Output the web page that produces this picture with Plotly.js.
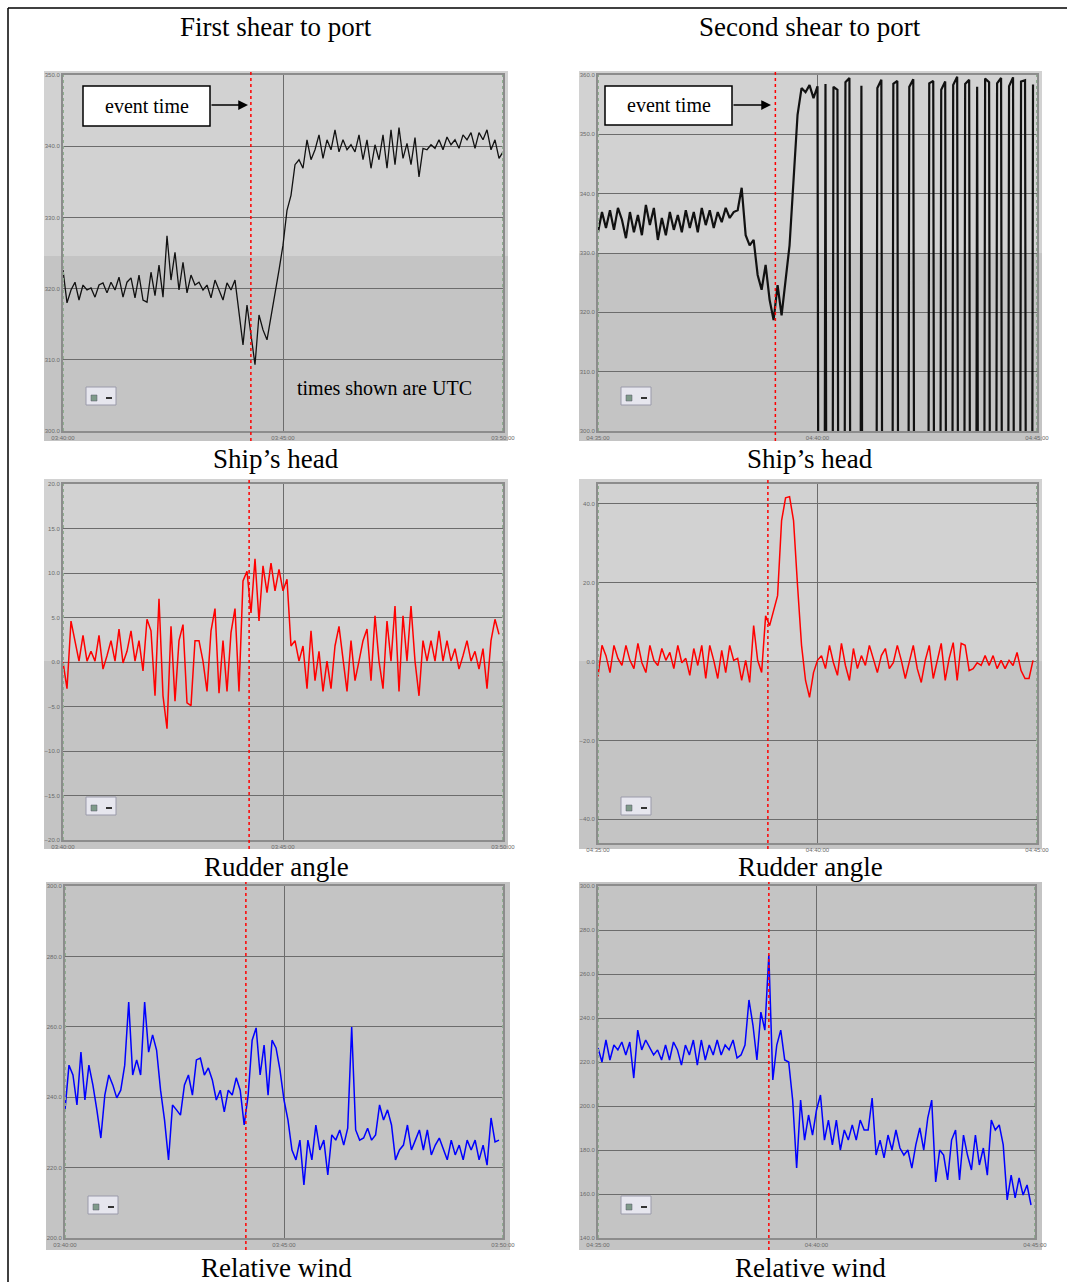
<!DOCTYPE html>
<html><head><meta charset="utf-8">
<script src="https://cdn.plot.ly/plotly-3.0.1.min.js"></script>
<style>html,body{margin:0;padding:0;background:#fff}#chart{width:1067px;height:1282px}</style>
</head><body><div id="chart"></div>
<script>
// ---------------- DATA ----------------
const tickMinutes = [0, 5, 10];
const firstTickText = ['03:40:00', '03:45:00', '03:50:00'];
const secondTickText = ['04:35:00', '04:40:00', '04:45:00'];
const sampleMinutes = 10 / 110;

// First shear to port - Ship's head (deg)
const headFirst = [322.6,318.0,319.8,320.9,318.4,320.5,319.8,320.1,318.8,320.5,320.8,319.4,320.9,319.8,321.6,318.8,320.9,321.5,318.7,321.9,
 318.4,318.1,322.3,319.0,323.3,318.8,327.4,321.2,325.1,319.8,323.7,319.4,321.9,320.5,320.9,319.8,320.5,318.7,321.2,319.8,
 318.4,320.8,319.8,321.2,317.0,312.1,317.7,313.5,309.3,316.3,314.2,312.8,315.9,319.1,322.6,326.1,331.0,333.1,337.4,338.1,
 336.9,340.9,338.1,339.5,341.6,338.3,340.9,339.5,342.3,339.2,340.9,339.5,340.2,339.2,341.6,338.1,340.9,336.9,340.2,338.1,
 341.6,336.9,342.3,337.4,342.6,338.3,340.4,337.4,341.2,335.7,339.7,339.5,340.2,339.7,340.9,339.5,341.3,340.2,340.9,339.7,
 341.6,340.9,341.9,339.7,341.9,340.9,342.3,339.5,340.9,338.3,339.2];

// Second shear to port - Ship's head (deg, wraps through 360)
const headSecond = [333.5,336.9,334.2,337.2,333.9,337.6,335.6,332.5,336.9,333.5,336.4,333.0,338.1,334.7,337.6,332.2,335.9,333.0,336.9,333.9,
 336.4,333.5,337.2,334.2,336.9,333.5,337.6,334.7,337.2,334.2,336.9,335.2,337.6,335.9,336.9,337.2,341.0,333.0,331.3,332.2,
 326.3,323.8,328.0,322.1,318.7,324.6,319.5,325.4,331.3,342.3,353.3,357.8,357.1,358.3,356.1,358.1,
 1.0,358.5,0.5,358.0,357.5,1.5,358.8,359.5,0.8,1.2,358.2,0.5,1.0,1.5,357.8,359.2,0.8,1.0,358.5,359.0,0.5,1.2,358.0,359.3,
 1.0,0.8,1.5,358.6,359.0,0.6,357.5,358.9,1.0,358.3,359.7,0.8,358.5,359.2,1.1,358.0,0.7,359.4,358.8,1.3,358.6,359.5,0.9,358.1,
 359.6,0.5,358.9,359.1,1.0,358.4];

// Rudder angle (deg)
const rudderFirst = [0.0,-3.0,4.6,2.4,0.1,3.0,0.1,1.2,0.1,3.0,-0.8,0.7,2.4,0.1,3.7,-0.1,1.2,3.5,0.1,2.4,
 -1.0,4.8,3.5,-3.8,7.1,-3.8,-7.5,4.0,-4.4,2.4,4.2,-4.6,-4.9,2.4,2.4,0.1,-3.3,3.5,6.0,-3.5,
 2.4,-3.3,3.3,6.0,-3.3,9.1,10.2,5.5,11.6,4.6,10.8,7.8,11.1,8.0,10.4,8.0,9.3,1.8,2.4,0.1,
 1.8,-3.0,3.5,-2.1,1.2,-3.3,0.1,-3.0,1.8,4.0,0.1,-3.3,2.4,-2.1,0.1,2.4,3.7,-2.1,5.2,0.1,
 -3.0,4.6,0.1,6.3,-3.3,5.2,0.1,6.3,0.1,-3.8,2.4,0.1,2.4,0.1,3.5,0.1,2.4,0.1,1.5,-0.8,
 0.7,2.4,0.1,1.2,-0.8,1.5,-3.0,2.4,4.8,3.1];
const rudderSecond = [-3.8,4.1,1.5,-2.8,4.1,0.8,-1.0,4.1,0.3,-1.8,4.6,-0.3,-2.8,4.1,0.3,-1.0,3.3,0.3,2.3,-1.8,
 4.1,-0.3,0.8,-3.5,3.3,-1.0,4.1,-4.3,4.1,0.3,-4.3,2.8,-2.8,4.1,0.3,0.8,-4.8,0.3,-5.3,9.1,
 0.3,-2.8,11.6,9.1,12.9,16.7,35.7,41.5,41.8,35.7,19.2,4.1,-4.8,-9.1,-2.8,0.3,1.5,-1.8,4.1,-0.3,
 -3.5,4.6,-1.0,-4.8,3.3,-1.8,1.5,-1.0,4.1,0.3,-2.8,1.5,3.3,-1.8,-0.3,4.1,0.3,-4.3,0.3,4.1,
 -1.8,-5.3,0.3,4.1,-4.3,0.3,4.6,-4.8,0.8,4.8,-4.8,4.6,4.1,-2.3,-1.8,-0.3,-1.0,1.5,-1.0,1.5,
 -1.8,0.3,-1.8,0.3,-1.0,2.3,-2.3,-4.3,-4.3,0.3];

// Relative wind (deg)
const windFirst = [236.4,249.1,246.3,237.8,252.8,239.2,249.1,243.5,236.4,228.4,240.6,246.3,243.5,239.8,242.0,249.1,267.0,246.3,250.6,246.3,
 267.0,252.8,257.7,253.4,242.0,233.5,222.2,237.8,236.4,234.9,243.5,246.3,240.6,250.6,251.1,246.3,248.3,244.9,239.2,242.0,
 235.8,242.0,240.6,245.5,242.0,232.1,240.6,256.2,259.7,246.3,254.8,240.6,256.2,254.0,247.7,239.2,233.5,225.0,222.2,227.8,
 215.1,227.8,222.2,232.1,225.0,227.8,217.9,229.3,227.8,230.7,226.4,231.2,259.9,230.7,227.8,228.4,231.2,227.8,229.3,237.8,
 233.5,236.4,232.1,222.2,225.0,226.4,232.1,225.0,227.8,230.7,225.0,230.7,223.6,226.4,228.4,225.0,222.2,227.8,223.6,226.4,
 222.2,227.8,225.0,227.8,222.2,226.4,220.7,234.1,227.3,227.8];
const windSecond = [226.4,220.0,230.0,220.9,227.7,225.5,229.1,223.2,229.1,212.7,234.5,225.5,230.0,226.4,223.2,225.5,220.9,227.7,220.9,229.1,
 225.5,218.6,227.7,223.2,230.0,218.6,230.0,220.9,227.7,223.2,230.0,223.2,227.7,225.5,230.0,221.8,223.2,227.7,248.2,236.8,
 220.9,242.7,234.5,268.6,211.8,227.7,234.5,220.9,220.0,202.7,171.8,202.7,184.5,195.9,186.8,198.2,205.0,184.5,193.6,182.3,
 193.6,180.0,189.1,184.5,191.4,184.5,193.6,189.1,189.1,203.6,177.7,184.5,176.4,186.8,180.0,189.1,180.9,177.7,180.0,171.8,
 182.3,190.0,180.0,194.5,202.7,165.5,180.0,177.7,166.4,184.5,189.1,166.4,186.8,177.7,170.9,186.8,173.2,180.9,168.6,193.6,
 189.1,191.4,182.3,157.3,168.6,158.2,167.3,159.5,164.1,155.0];

// Event time (minutes after the first tick)
const eventFirst = [4.27, 4.23, 4.13];
const eventSecond = [4.04, 3.87, 3.91];

// ---------------- LAYOUT ----------------
const W = 1067, H = 1282;
const px = x => x / W, py = y => 1 - y / H;

const panels = [
  {img:[44,508,71,441],   plot:[63,503,75,431],   range:[300,350], tv:[300,310,320,330,340,350], ticks:firstTickText, light:256, data:headFirst,  color:'#111', width:1.3, ev:eventFirst[0],  legend:[86,387]},
  {img:[579,1042,71,441], plot:[598,1037,75,431], range:[300,360], tv:[300,310,320,330,340,350,360], ticks:secondTickText, light:253, data:headSecond, color:'#111', width:2.2, ev:eventSecond[0], legend:[621,387]},
  {img:[44,508,479,849],  plot:[63,503,484,840],  range:[-20,20],  tv:[-20,-15,-10,-5,0,5,10,15,20], ticks:firstTickText, light:661, data:rudderFirst, color:'#ff0000', width:1.5, ev:eventFirst[1], legend:[86,797]},
  {img:[579,1042,479,849],plot:[598,1037,484,843], range:[-46,45], tv:[-40,-20,0,20,40], ticks:secondTickText, light:661, data:rudderSecond, color:'#ff0000', width:1.5, ev:eventSecond[1], legend:[621,797]},
  {img:[46,510,882,1250], plot:[65,503,886,1238], range:[200,300], tv:[200,220,240,260,280,300], ticks:firstTickText, light:null, data:windFirst, color:'#0000ff', width:1.5, ev:eventFirst[2], legend:[88,1196]},
  {img:[579,1042,882,1250],plot:[598,1035,886,1238], range:[140,300], tv:[140,160,180,200,220,240,260,280,300], ticks:secondTickText, light:null, data:windSecond, color:'#0000ff', width:1.5, ev:eventSecond[2], legend:[621,1196]}
];

const layout = {
  width: W, height: H, margin:{l:0,r:0,t:0,b:0},
  paper_bgcolor:'#ffffff', plot_bgcolor:'rgba(0,0,0,0)', showlegend:false,
  font:{family:'Liberation Sans', color:'#000'},
  shapes:[], annotations:[]
};
const traces = [];

panels.forEach((p, k) => {
  const n = k + 1;
  const xn = 'x' + (n === 1 ? '' : n), yn = 'y' + (n === 1 ? '' : n);
  const xk = 'xaxis' + (n === 1 ? '' : n), yk = 'yaxis' + (n === 1 ? '' : n);
  layout[xk] = {
    domain:[px(p.plot[0]), px(p.plot[1])], anchor:yn, range:[0,10],
    tickvals:tickMinutes, ticktext:p.ticks, showgrid:true, gridcolor:'#6c6c6c', gridwidth:1,
    zeroline:false, showline:true, linecolor:'#8c8c8c', linewidth:2, mirror:true, ticks:'',
    tickfont:{family:'Liberation Sans', size:6, color:'#6a6a6a'}, ticklabeloverflow:'allow', fixedrange:true
  };
  layout[yk] = {
    domain:[py(p.plot[3]), py(p.plot[2])], anchor:xn, range:p.range, tickvals:p.tv, tickformat:'.1f',
    showgrid:true, gridcolor:'#6c6c6c', gridwidth:1, zeroline:false, showline:true, linecolor:'#8c8c8c',
    linewidth:2, mirror:true, ticks:'', tickfont:{family:'Liberation Sans', size:6, color:'#6a6a6a'},
    ticklabeloverflow:'allow', fixedrange:true
  };
  // panel backgrounds
  layout.shapes.push({type:'rect', xref:'paper', yref:'paper', x0:px(p.img[0]), x1:px(p.img[1]), y0:py(p.img[3]), y1:py(p.img[2]),
    fillcolor:'#c4c4c4', line:{width:0}, layer:'below'});
  if (p.light !== null) {
    layout.shapes.push({type:'rect', xref:'paper', yref:'paper', x0:px(p.img[0]), x1:px(p.img[1]), y0:py(p.light), y1:py(p.img[2]),
      fillcolor:'#d2d2d2', line:{width:0}, layer:'below'});
  }
  // green-grey plot edges
  [0, 10].forEach(xv => layout.shapes.push({type:'line', xref:xn, yref:'paper', x0:xv, x1:xv, y0:py(p.plot[3]), y1:py(p.plot[2]),
    line:{color:'#8fae8f', width:2, dash:'dot'}, layer:'above'}));
  // event time line
  layout.shapes.push({type:'line', xref:xn, yref:'paper', x0:p.ev, x1:p.ev, y0:py(p.img[3]), y1:py(p.img[2]),
    line:{color:'#ff0000', width:1.5, dash:'dot'}, layer:'above'});
  // mini legend icon
  const [lx, ly] = p.legend;
  layout.shapes.push({type:'rect', xref:'paper', yref:'paper', x0:px(lx), x1:px(lx+30), y0:py(ly+18), y1:py(ly),
    fillcolor:'#e6e6ee', line:{color:'#9a9aaa', width:1}, layer:'above'});
  layout.shapes.push({type:'rect', xref:'paper', yref:'paper', x0:px(lx+5), x1:px(lx+11), y0:py(ly+14), y1:py(ly+8),
    fillcolor:'#7f9a8a', line:{color:'#556', width:0.5}, layer:'above'});
  layout.shapes.push({type:'rect', xref:'paper', yref:'paper', x0:px(lx+20), x1:px(lx+26), y0:py(ly+12), y1:py(ly+10),
    fillcolor:'#333', line:{width:0}, layer:'above'});
  traces.push({
    type:'scatter', mode:'lines', xaxis:xn, yaxis:yn,
    x:p.data.map((_, i) => i * sampleMinutes), y:p.data,
    line:{color:p.color, width:p.width}, hoverinfo:'skip'
  });
});

// outer frame
layout.shapes.push({type:'line', xref:'paper', yref:'paper', x0:px(8), x1:1, y0:py(8), y1:py(8), line:{color:'#000', width:1.5}});
layout.shapes.push({type:'line', xref:'paper', yref:'paper', x0:px(8), x1:px(8), y0:py(8), y1:0, line:{color:'#000', width:1.5}});

// event time boxes
[[83,210,86,126,248],[605,732,86,125,771]].forEach(b => {
  layout.shapes.push({type:'rect', xref:'paper', yref:'paper', x0:px(b[0]), x1:px(b[1]), y0:py(b[3]), y1:py(b[2]),
    fillcolor:'#ffffff', line:{color:'#000', width:1.5}, layer:'above'});
  layout.annotations.push({xref:'paper', yref:'paper', x:px((b[0]+b[1])/2), y:py((b[2]+b[3])/2), text:'event time',
    showarrow:false, font:{family:'Liberation Serif', size:20, color:'#000'}, xanchor:'center', yanchor:'middle'});
  layout.annotations.push({xref:'paper', yref:'paper', x:px(b[4]), y:py(105), text:'', showarrow:true,
    ax:-(b[4]-b[1]), ay:0, arrowhead:2, arrowsize:1.3, arrowwidth:1.5, arrowcolor:'#000'});
});

const serif = {family:'Liberation Serif', size:27, color:'#000'};
const titleText = [
  ['First shear to port', 276, 27], ['Second shear to port', 810, 27],
  ['Ship\u2019s head', 276, 459], ['Ship\u2019s head', 810, 459],
  ['Rudder angle', 276, 867], ['Rudder angle', 810, 867],
  ['Relative wind', 276, 1268], ['Relative wind', 810, 1268]
];
titleText.forEach(t => layout.annotations.push({xref:'paper', yref:'paper', x:px(t[1]), y:py(t[2]), text:t[0],
  showarrow:false, font:serif, xanchor:'center', yanchor:'middle'}));
layout.annotations.push({xref:'paper', yref:'paper', x:px(384), y:py(388), text:'times shown are UTC',
  showarrow:false, font:{family:'Liberation Serif', size:20, color:'#000'}, xanchor:'center', yanchor:'middle'});

Plotly.newPlot('chart', traces, layout, {staticPlot:true, displayModeBar:false});
</script>
</body></html>
